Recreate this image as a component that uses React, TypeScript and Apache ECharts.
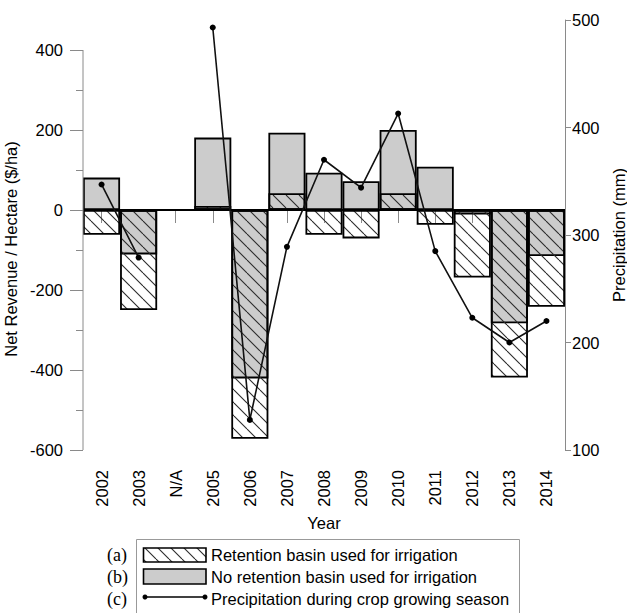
import React, { useEffect, useRef } from 'react';
import * as echarts from 'echarts';

const years = ['2002', '2003', 'N/A', '2005', '2006', '2007', '2008', '2009', '2010', '2011', '2012', '2013', '2014'];
const retention = [-62, -250, null, 10, -572, 42, -62, -71, 42, -37, -169, -419, -242];
const noRetention = [81, -111, null, 181, -421, 193, 93, 72, 200, 108, -11, -283, -115];
const precipitation = [347, 279, null, 493, 128, 289, 370, 344, 413, 285, 223, 200, 220];
const leftMajorTicks = [-600, -400, -200, 0, 200, 400];
const leftMinorTicks = [-500, -300, -100, 100, 300];
const rightTicks = [100, 200, 300, 400, 500];
const legendLabels = ['(a)', '(b)', '(c)'];
const seriesNames = [
  'Retention basin used for irrigation',
  'No retention basin used for irrigation',
  'Precipitation during crop growing season',
];

const FONT = '"Liberation Sans", Arial, sans-serif';
const SERIF = '"Liberation Serif", "Times New Roman", serif';
const AXIS_GREY = '#8a8a8a';
const GRID_LEFT = 83;

function makeHatch() {
  const S = 13;
  const c = document.createElement('canvas');
  c.width = S;
  c.height = S;
  const ctx = c.getContext('2d')!;
  ctx.strokeStyle = '#2a2a2a';
  ctx.lineWidth = 1.1;
  for (const k of [-1, 0, 1]) {
    ctx.beginPath();
    ctx.moveTo(k * S, 0);
    ctx.lineTo(k * S + S, S);
    ctx.stroke();
  }
  return { image: c, repeat: 'repeat', imageWidth: S, imageHeight: S } as any;
}

export default function App() {
  const ref = useRef<HTMLDivElement>(null);
  useEffect(() => {
    document.body.style.margin = '0';
    const chart = echarts.init(ref.current!, null, { renderer: 'svg' });
    const hatch = makeHatch();
    const option: any = {
      animation: false,
      backgroundColor: '#fff',
      textStyle: { fontFamily: FONT, color: '#000' },
      grid: { left: GRID_LEFT, right: 62, top: 20, bottom: 163, containLabel: false, outerBoundsMode: 'none' },
      xAxis: {
        type: 'category',
        data: years,
        boundaryGap: true,
        axisLine: { show: true, lineStyle: { color: AXIS_GREY, width: 1 } },
        axisTick: { show: true, alignWithLabel: true, length: 13, lineStyle: { color: AXIS_GREY } },
        axisLabel: { rotate: 90, margin: 20, fontSize: 16.5, color: '#000', fontFamily: FONT },
        name: 'Year',
        nameLocation: 'middle',
        nameGap: 56,
        nameTextStyle: { fontSize: 16.5, color: '#000', fontFamily: FONT },
        splitLine: { show: false },
      },
      yAxis: [
        {
          type: 'value',
          min: -600,
          max: 475,
          interval: 200,
          position: 'left',
          axisLine: { show: false },
          axisTick: { show: true, length: 13, customValues: leftMajorTicks, lineStyle: { color: AXIS_GREY } },
          axisLabel: { customValues: leftMajorTicks, margin: 20, fontSize: 16.5, color: '#000', fontFamily: FONT },
          splitLine: { show: false },
          name: 'Net Revenue / Hectare ($/ha)',
          nameLocation: 'middle',
          nameGap: 55,
          nameTextStyle: { fontSize: 16.5, color: '#000', fontFamily: FONT, padding: [0, 28, 0, 0] },
        },
        {
          type: 'value',
          min: -600,
          max: 475,
          position: 'left',
          axisLine: { show: false },
          axisTick: { show: true, length: 7, customValues: leftMinorTicks, lineStyle: { color: AXIS_GREY } },
          axisLabel: { show: false },
          splitLine: { show: false },
        },
        {
          type: 'value',
          min: 100,
          max: 500,
          interval: 100,
          position: 'right',
          axisLine: { show: true, lineStyle: { color: AXIS_GREY } },
          axisTick: { show: true, length: 6, customValues: rightTicks, lineStyle: { color: AXIS_GREY } },
          axisLabel: { customValues: rightTicks, margin: 7, fontSize: 16.5, color: '#000', fontFamily: FONT },
          splitLine: { show: false },
          name: 'Precipitation (mm)',
          nameLocation: 'middle',
          nameGap: 41,
          nameTextStyle: { fontSize: 16.5, color: '#000', fontFamily: FONT },
        },
      ],
      series: [
        {
          name: seriesNames[1],
          type: 'bar',
          data: noRetention,
          yAxisIndex: 0,
          barWidth: '100%',
          barGap: '-100%',
          itemStyle: { color: '#cccccc', borderColor: '#000', borderWidth: 1.8 },
        },
        {
          name: seriesNames[0],
          type: 'bar',
          data: retention,
          yAxisIndex: 0,
          barWidth: '100%',
          barGap: '-100%',
          itemStyle: { color: hatch, borderColor: '#000', borderWidth: 1.8 },
          markLine: {
            silent: true,
            symbol: ['none', 'none'],
            label: { show: false },
            lineStyle: { color: '#000', width: 1.8, type: 'solid' },
            data: [{ yAxis: 0 }],
          },
        },
        {
          name: seriesNames[2],
          type: 'line',
          data: precipitation,
          yAxisIndex: 2,
          connectNulls: false,
          symbol: 'circle',
          symbolSize: 6,
          lineStyle: { color: '#111', width: 1.6 },
          itemStyle: { color: '#000' },
          z: 5,
        },
      ],
    };
    chart.setOption(option);

    const yTop = chart.convertToPixel({ yAxisIndex: 0 } as any, 400) as number;
    const yBot = chart.convertToPixel({ yAxisIndex: 0 } as any, -600) as number;
    const legendY = [555, 577, 599];
    chart.setOption({
      graphic: [
        {
          type: 'line',
          shape: { x1: GRID_LEFT, y1: yTop, x2: GRID_LEFT, y2: yBot },
          style: { stroke: AXIS_GREY, lineWidth: 1 },
          z: 10,
        },
        {
          type: 'rect',
          shape: { x: 136.5, y: 539.5, width: 383, height: 100 },
          style: { fill: 'none', stroke: '#999', lineWidth: 1 },
        },
        ...legendLabels.map((t, i) => ({
          type: 'text',
          style: { text: t, x: 107, y: legendY[i], fontSize: 18, fontFamily: SERIF, fill: '#000', verticalAlign: 'middle', align: 'left' },
        })),
        ...seriesNames.map((t, i) => ({
          type: 'text',
          style: { text: t, x: 211, y: legendY[i], fontSize: 16.5, fontFamily: FONT, fill: '#000', verticalAlign: 'middle', align: 'left' },
        })),
        {
          type: 'rect',
          shape: { x: 143.5, y: 548, width: 62.5, height: 14 },
          style: { fill: hatch, stroke: '#000', lineWidth: 1.6 },
        },
        {
          type: 'rect',
          shape: { x: 143.5, y: 569, width: 62.5, height: 15 },
          style: { fill: '#cccccc', stroke: '#000', lineWidth: 1.6 },
        },
        {
          type: 'line',
          shape: { x1: 145, y1: 597, x2: 205, y2: 597 },
          style: { stroke: '#000', lineWidth: 1.5 },
        },
        { type: 'circle', shape: { cx: 145, cy: 597, r: 2.5 }, style: { fill: '#000' } },
        { type: 'circle', shape: { cx: 205, cy: 597, r: 2.5 }, style: { fill: '#000' } },
      ],
    });
    return () => chart.dispose();
  }, []);
  return <div ref={ref} style={{ position: 'fixed', left: 0, top: 0, width: 627, height: 613 }} />;
}
